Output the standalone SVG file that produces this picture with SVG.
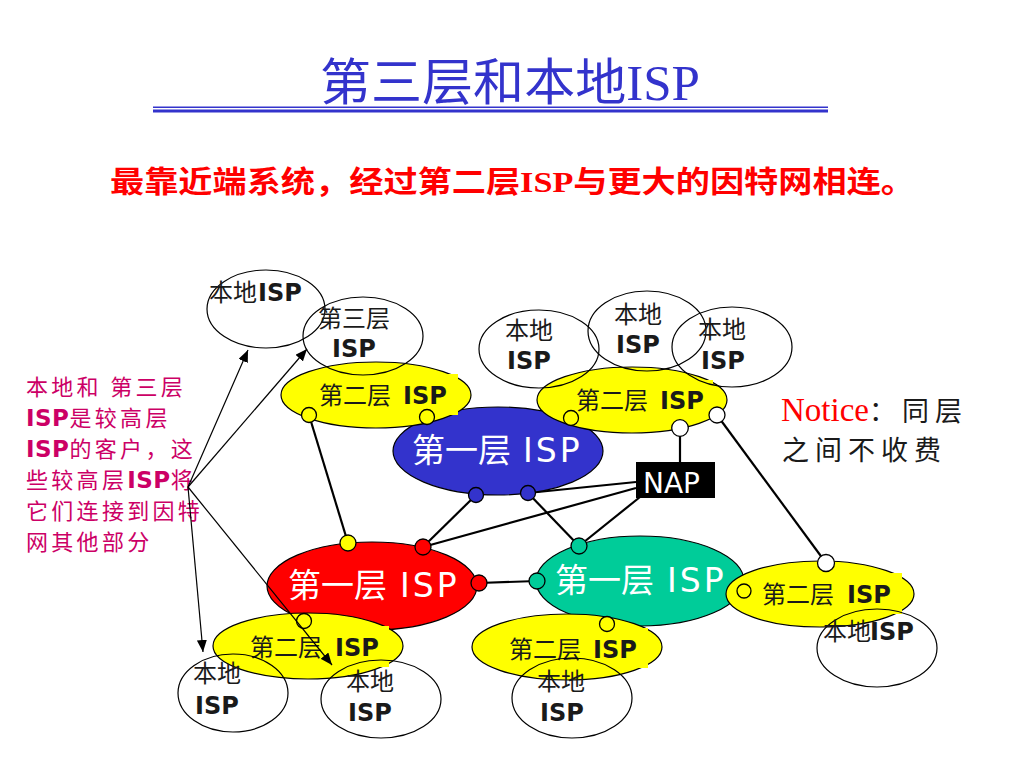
<svg xmlns="http://www.w3.org/2000/svg" width="1012" height="759" viewBox="0 0 1012 759">
<defs>
<style>
.cjk{font-family:"Noto Sans CJK SC","Noto Sans",sans-serif;}
.isp{font-family:"DejaVu Sans","Noto Sans CJK SC",sans-serif;font-weight:bold;}
.ispn{font-family:"DejaVu Sans","Noto Sans CJK SC",sans-serif;}
.lbl{font-size:24px;fill:#1a1a1a;}
.t1{font-size:33px;fill:#ffffff;}
.loc{fill:none;stroke:#000;stroke-width:1.2;}
.yel{fill:#ffff00;stroke:#000;stroke-width:1.2;}
.stub{fill:#ffff00;stroke:none;}
.port{stroke:#000;stroke-width:1.3;}
.conn{stroke:#000;stroke-width:2.2;fill:none;}
.arr{stroke:#000;stroke-width:1.2;fill:none;marker-end:url(#ah);}
.note{font-size:22px;fill:#cc0066;letter-spacing:3.3px;}
.note .isp{letter-spacing:0.5px;font-size:23px;}
.ntc{font-size:27px;fill:#1a1a1a;letter-spacing:6px;}
</style>
<marker id="ah" markerUnits="userSpaceOnUse" markerWidth="12" markerHeight="10" refX="12" refY="5" orient="auto">
<path d="M0,0 L12,5 L0,10 z" fill="#000"/>
</marker>
</defs>
<rect width="1012" height="759" fill="#ffffff"/>

<g id="title">
<text x="320" y="100" textLength="380" lengthAdjust="spacingAndGlyphs" fill="#3333cc" font-size="50" class="cjk">第三层和本地<tspan font-family="Liberation Serif, serif">ISP</tspan></text>
<rect x="153" y="106.5" width="675" height="1.5" fill="#3333cc"/>
<rect x="153" y="109.5" width="675" height="3" fill="#3333cc"/>
</g>

<g id="subtitle">
<text x="110" y="192" textLength="805" lengthAdjust="spacingAndGlyphs" fill="#ff0000" font-size="30" font-weight="bold" class="cjk">最靠近端系统，经过第二层<tspan font-family="Liberation Serif, serif">ISP</tspan>与更大的因特网相连。</text>
</g>

<g id="annotation" class="note">
<text x="26" y="395" class="cjk">本地和 第三层</text>
<text x="26" y="426" class="cjk"><tspan class="isp">ISP</tspan>是较高层</text>
<text x="26" y="457" class="cjk"><tspan class="isp">ISP</tspan>的客户，这</text>
<text x="26" y="488" class="cjk">些较高层<tspan class="isp">ISP</tspan>将</text>
<text x="26" y="519" class="cjk">它们连接到因特</text>
<text x="26" y="550" class="cjk">网其他部分</text>
</g>

<g id="notice">
<text x="781" y="421"><tspan font-family="Liberation Serif, serif" font-size="33" fill="#ff0000">Notice</tspan><tspan class="cjk ntc">：同层</tspan></text>
<text x="782" y="460" class="cjk ntc">之间不收费</text>
</g>

<g id="connectors">
<line class="conn" x1="309" y1="415" x2="348" y2="543"/>
<line class="conn" x1="476" y1="495" x2="423" y2="547"/>
<line class="conn" x1="528" y1="493" x2="579" y2="546"/>
<line class="conn" x1="636" y1="482" x2="528" y2="493"/>
<line class="conn" x1="636" y1="488" x2="423" y2="547"/>
<line class="conn" x1="640" y1="497" x2="579" y2="546"/>
<line class="conn" x1="479" y1="583" x2="537" y2="581"/>
<line class="conn" x1="717" y1="415" x2="826" y2="563"/>
<line class="conn" x1="680" y1="428" x2="680" y2="462" stroke-width="1.4"/>
</g>

<g id="tier1-blue">
<ellipse cx="498" cy="451" rx="105" ry="44" fill="#3333cc" stroke="#000" stroke-width="1.2"/>
<text x="412" y="462" class="t1"><tspan class="cjk">第一层</tspan><tspan x="523" class="ispn" letter-spacing="3">ISP</tspan></text>
<circle class="port" cx="476" cy="495" r="7.5" fill="#3333cc"/>
<circle class="port" cx="528" cy="493" r="7.5" fill="#3333cc"/>
</g>

<g id="tier1-red">
<ellipse cx="372" cy="586" rx="105" ry="44" fill="#ff0000" stroke="#000" stroke-width="1.2"/>
<text x="288" y="597" class="t1"><tspan class="cjk">第一层</tspan><tspan x="400" class="ispn" letter-spacing="3">ISP</tspan></text>
<circle class="port" cx="348" cy="543" r="8" fill="#ffff00"/>
<circle class="port" cx="423" cy="547" r="8" fill="#ff0000"/>
<circle class="port" cx="479" cy="583" r="8" fill="#ff0000"/>
</g>

<g id="tier1-green">
<ellipse cx="640" cy="581" rx="104" ry="45" fill="#00cc99" stroke="#000" stroke-width="1.2"/>
<text x="555" y="592" class="t1"><tspan class="cjk">第一层</tspan><tspan x="667" class="ispn" letter-spacing="3">ISP</tspan></text>
<circle class="port" cx="579" cy="546" r="8" fill="#00cc99"/>
<circle class="port" cx="537" cy="581" r="8" fill="#00cc99"/>
</g>

<g id="tier2-topleft">
<ellipse class="yel" cx="376" cy="395" rx="95" ry="33"/>
<rect class="stub" x="410" y="374" width="48" height="41"/>
<text y="404" class="lbl"><tspan x="319" class="cjk">第二层</tspan><tspan x="403" class="isp">ISP</tspan></text>
<circle class="port" cx="309" cy="415" r="7.5" fill="#ffff00"/>
<circle class="port" cx="427" cy="417" r="7.5" fill="#ffff00"/>
</g>

<g id="tier2-topright">
<ellipse class="yel" cx="632" cy="400" rx="95" ry="33"/>
<rect class="stub" x="665" y="380" width="48" height="32"/>
<text y="409" class="lbl"><tspan x="576" class="cjk">第二层</tspan><tspan x="660" class="isp">ISP</tspan></text>
<circle class="port" cx="571" cy="418" r="7.5" fill="#ffff00"/>
<circle class="port" cx="680" cy="428" r="8.3" fill="#ffffff"/>
<circle class="port" cx="717" cy="415" r="8" fill="#ffffff"/>
</g>

<g id="tier2-right">
<ellipse class="yel" cx="820" cy="594" rx="94" ry="33"/>
<rect class="stub" x="855" y="573" width="47" height="41"/>
<text y="603" class="lbl"><tspan x="762" class="cjk">第二层</tspan><tspan x="847" class="isp">ISP</tspan></text>
<circle class="port" cx="744" cy="591" r="7" fill="#ffff00"/>
<circle class="port" cx="826" cy="563" r="8.5" fill="#ffffff"/>
</g>

<g id="tier2-bottommid">
<ellipse class="yel" cx="567" cy="647" rx="95" ry="33"/>
<rect class="stub" x="600" y="628" width="48" height="40"/>
<text y="658" class="lbl"><tspan x="509" class="cjk">第二层</tspan><tspan x="593" class="isp">ISP</tspan></text>
<circle class="port" cx="607" cy="624" r="7.5" fill="#ffff00"/>
</g>

<g id="tier2-bottomleft">
<ellipse class="yel" cx="308" cy="646" rx="95" ry="33"/>
<rect class="stub" x="341" y="626" width="48" height="41"/>
<text y="656" class="lbl"><tspan x="250" class="cjk">第二层</tspan><tspan x="335" class="isp">ISP</tspan></text>
<circle class="port" cx="304" cy="621" r="7.5" fill="#ffff00"/>
</g>

<g id="local-topleft">
<ellipse class="loc" cx="266" cy="309" rx="59" ry="39"/>
<text y="301" class="lbl"><tspan x="209" class="cjk">本地</tspan><tspan x="258" class="isp">ISP</tspan></text>
</g>

<g id="tier3">
<ellipse class="loc" cx="363" cy="336" rx="60" ry="39"/>
<text x="318" y="327" class="lbl cjk">第三层</text>
<text x="332" y="357" class="lbl isp">ISP</text>
</g>

<g id="local-top1">
<ellipse class="loc" cx="539" cy="349" rx="60" ry="39"/>
<text x="505" y="339" class="lbl cjk">本地</text>
<text x="507" y="369" class="lbl isp">ISP</text>
</g>

<g id="local-top2">
<ellipse class="loc" cx="647" cy="331" rx="59" ry="40"/>
<text x="614" y="323" class="lbl cjk">本地</text>
<text x="616" y="353" class="lbl isp">ISP</text>
</g>

<g id="local-top3">
<ellipse class="loc" cx="732" cy="347" rx="60" ry="40"/>
<text x="698" y="338" class="lbl cjk">本地</text>
<text x="701" y="369" class="lbl isp">ISP</text>
</g>

<g id="local-right">
<ellipse class="loc" cx="877" cy="648" rx="60" ry="39"/>
<text y="640" class="lbl"><tspan x="823" class="cjk">本地</tspan><tspan x="870" class="isp">ISP</tspan></text>
</g>

<g id="local-bottommid">
<ellipse class="loc" cx="572" cy="698" rx="60" ry="40"/>
<text x="537" y="690" class="lbl cjk">本地</text>
<text x="540" y="721" class="lbl isp">ISP</text>
</g>

<g id="local-bottomleft">
<ellipse class="loc" cx="233" cy="693" rx="55" ry="39"/>
<text x="193" y="682" class="lbl cjk">本地</text>
<text x="195" y="714" class="lbl isp">ISP</text>
</g>

<g id="local-bottomcenter">
<ellipse class="loc" cx="381" cy="699" rx="60" ry="39"/>
<text x="346" y="690" class="lbl cjk">本地</text>
<text x="348" y="721" class="lbl isp">ISP</text>
</g>

<g id="nap">
<rect x="636" y="462" width="79" height="36" fill="#000"/>
<text x="643" y="493" font-size="28" fill="#fff" class="ispn">NAP</text>
</g>

<g id="annotation-arrows">
<line class="arr" x1="188" y1="487" x2="248" y2="350"/>
<line class="arr" x1="188" y1="487" x2="307" y2="349"/>
<line class="arr" x1="188" y1="487" x2="203" y2="652"/>
<line class="arr" x1="188" y1="487" x2="332" y2="665"/>
</g>
</svg>
